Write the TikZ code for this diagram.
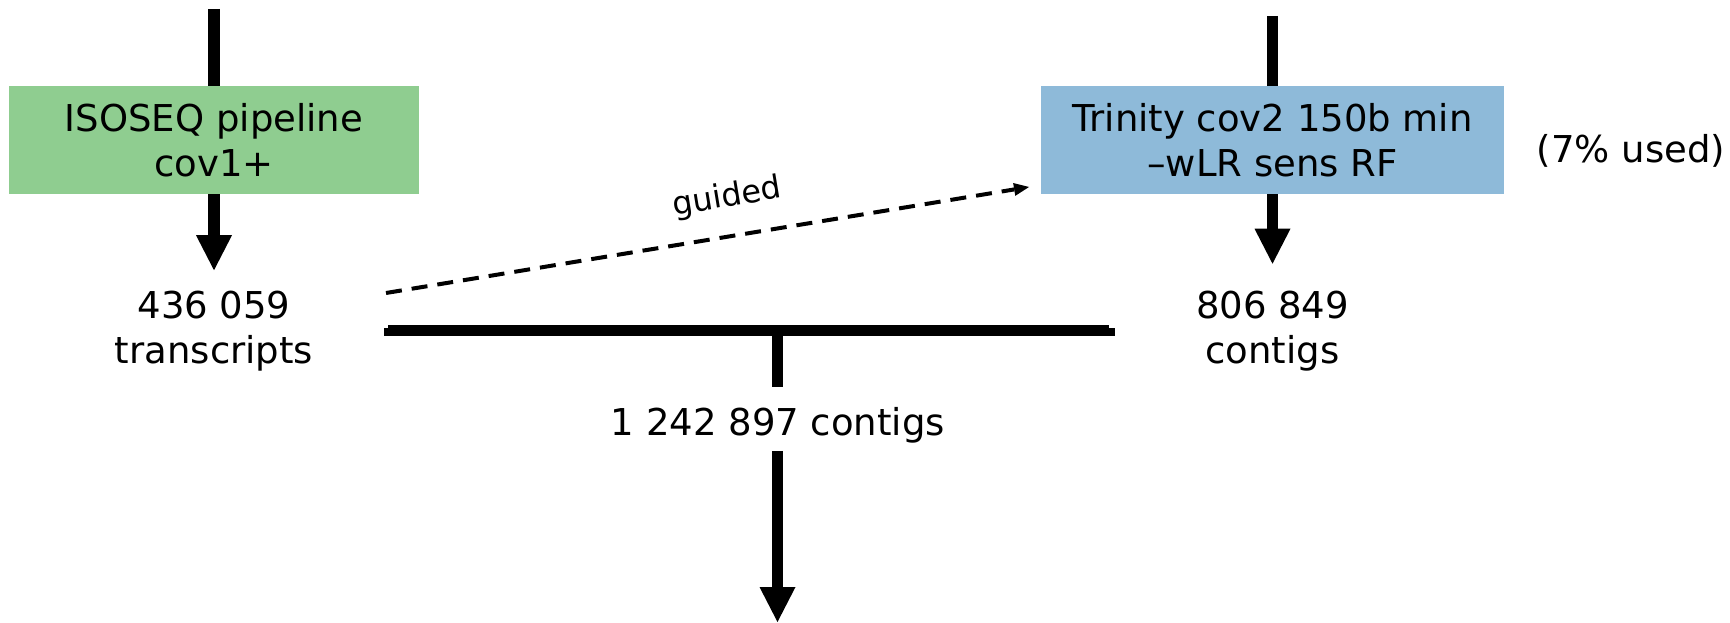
\documentclass[tikz,border=0pt]{standalone}
\usepackage{fontspec}
\setmainfont{DejaVu Sans}
\usetikzlibrary{arrows.meta}
\definecolor{boxgreen}{RGB}{143,205,144}
\definecolor{boxblue}{RGB}{142,186,217}
\begin{document}
\begin{tikzpicture}[x=1pt,y=-1pt,
  every node/.style={inner sep=0pt, font=\fontsize{37}{45}\selectfont, align=center},
  procbox/.style={minimum height=108pt},
  feed/.style={line width=11.5pt},
  flow/.style={line width=11.5pt, -{Triangle[length=35pt,width=36pt,line width=0pt]}},
  guidedarrow/.style={line width=4pt, dash pattern=on 16pt off 10pt, -{Triangle[length=15pt,width=13pt,line width=0pt]}},
  guidedlabel/.style={font=\fontsize{32}{38}\selectfont, sloped, above=21pt, pos=0.54}
]
\useasboundingbox (0,0) rectangle (1730,623);
% free ends
\coordinate (inL) at (214,9);
\coordinate (inR) at (1272.5,16);
\coordinate (gs) at (386,293);
\coordinate (ge) at (1029,187);
\coordinate (barLa) at (388,329.5);
\coordinate (barRa) at (1109,329.5);
\coordinate (barLb) at (384,332);
\coordinate (barRb) at (1115,332);
\coordinate (mJ) at (777.5,330);
\coordinate (out) at (777.5,622);
% incoming lines
\draw[feed] (inL) -- (214,90);
\draw[feed] (inR) -- (1272.5,90);
% nodes
\node[procbox, fill=boxgreen, minimum width=410pt] (iso) at (214,140) {ISOSEQ pipeline\\cov1+};
\node[procbox, fill=boxblue, minimum width=463pt] (trin) at (1272.5,140) {Trinity cov2 150b min\\–wLR sens RF};
\node[anchor=base] (used) at (1631,163) {(7\% used)};
\node (tr) at (214,331.5) {436 059\\transcripts};
\node (ct) at (1272.5,331) {806 849\\contigs};
\node[anchor=base] (all) at (778,435) {1 242 897 contigs};
% arrows
\draw[flow] (iso.south) -- ([yshift=21pt]tr.north);
\draw[flow] (trin.south) -- ([yshift=27pt]ct.north);
\draw[guidedarrow] (gs) -- node[guidedlabel] {guided} (ge);
% merge bar
\draw[line width=9pt] (barLa) -- (barRa);
\draw[line width=8pt] (barLb) -- (barRb);
\draw[feed] (mJ) -- ([yshift=20pt]all.north -| mJ);
\draw[flow] ([yshift=-8pt]all.south -| out) -- (out);
\end{tikzpicture}
\end{document}
